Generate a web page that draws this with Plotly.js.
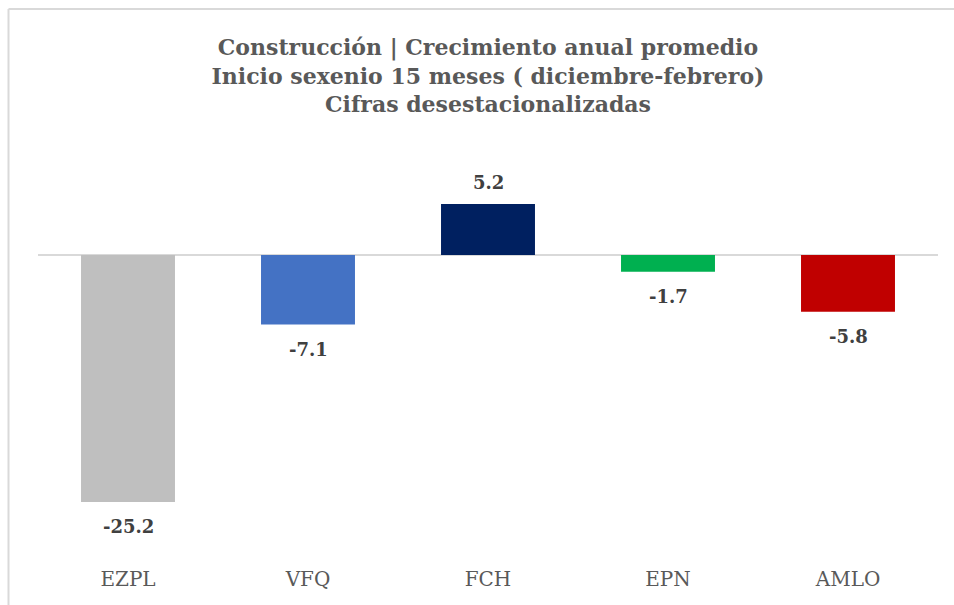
<!DOCTYPE html>
<html>
<head>
<meta charset="utf-8">
<script src="https://cdn.plot.ly/plotly-3.0.1.min.js"></script>
<style>html,body{margin:0;padding:0;background:#fff;}#chart{width:954px;height:605px;}</style>
</head>
<body>
<div id="chart"></div>
<script>
const categories = ["EZPL", "VFQ", "FCH", "EPN", "AMLO"];
const values = [-25.2, -7.1, 5.2, -1.7, -5.8];
const labels = ["-25.2", "-7.1", "5.2", "-1.7", "-5.8"];
const colors = ["#bfbfbf", "#4472c4", "#002060", "#00b050", "#c00000"];

const W = 954, H = 605;
const serif = "DejaVu Serif, serif";

const annotations = categories.map((c, i) => ({
  x: c, y: values[i], xref: "x", yref: "y",
  text: "<b>" + labels[i] + "</b>",
  showarrow: false,
  yshift: values[i] >= 0 ? 22 : -25,
  font: {family: serif, size: 18, color: "#404040"}
}));

const layout = {
  width: W, height: H,
  margin: {l: 38, r: 16, t: 160, b: 40},
  paper_bgcolor: "#ffffff",
  plot_bgcolor: "#ffffff",
  showlegend: false,
  bargap: 0.478,
  title: {
    text: "<b>Construcción | Crecimiento anual promedio<br>Inicio sexenio 15 meses ( diciembre-febrero)<br>Cifras desestacionalizadas</b>",
    font: {family: serif, size: 22, color: "#595959"},
    x: 0.5, xref: "paper", xanchor: "center",
    y: 1 - 55 / H, yref: "container", yanchor: "top"
  },
  xaxis: {
    type: "category",
    showgrid: false, zeroline: false, showline: false, ticks: "",
    tickfont: {family: serif, size: 20, color: "#595959"},
    fixedrange: true
  },
  yaxis: {
    range: [-31.63, 9.69],
    showgrid: false, showticklabels: false, ticks: "",
    zeroline: true, zerolinecolor: "#d9d9d9", zerolinewidth: 2,
    fixedrange: true
  },
  annotations: annotations,
  shapes: [
    {type: "line", xref: "paper", yref: "paper",
     x0: (8.5 - 38) / 900, x1: (8.5 - 38) / 900,
     y0: (565 - 9) / 405, y1: -1,
     line: {color: "#d9d9d9", width: 2}},
    {type: "line", xref: "paper", yref: "paper",
     x0: (8.5 - 38) / 900, x1: 1.2,
     y0: (565 - 9) / 405, y1: (565 - 9) / 405,
     line: {color: "#d9d9d9", width: 2}}
  ]
};

Plotly.newPlot("chart", [{
  type: "bar",
  x: categories,
  y: values,
  marker: {color: colors},
  hoverinfo: "none",
  cliponaxis: false
}], layout, {displayModeBar: false, staticPlot: true});
</script>
</body>
</html>
